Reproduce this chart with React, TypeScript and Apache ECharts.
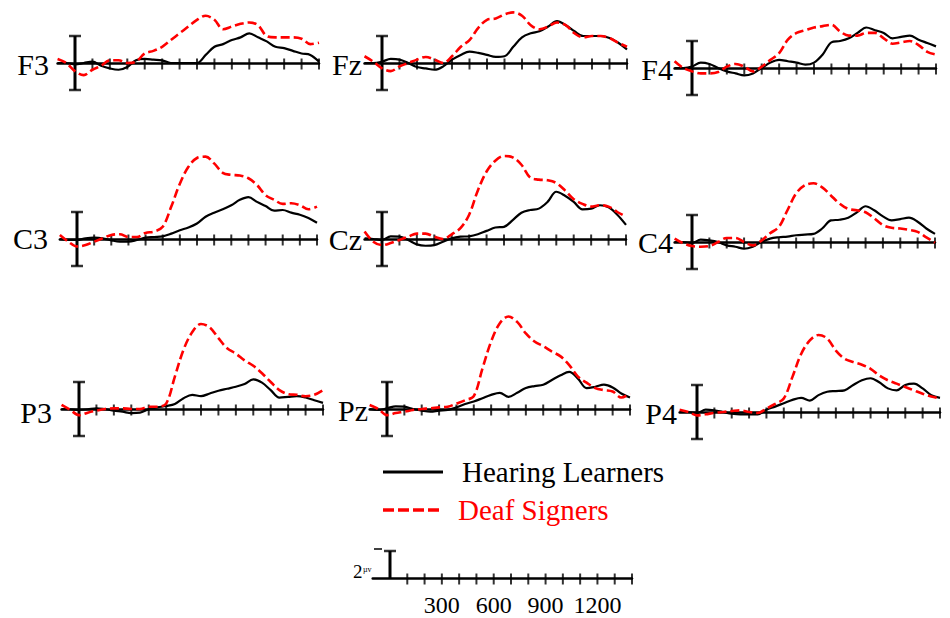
import { useEffect, useRef } from "react";
import * as echarts from "echarts";

// Time points (ms) and tick positions
const TIMES = [-100, -50, 0, 50, 100, 150, 200, 250, 300, 350, 400, 450, 500, 550, 600, 650, 700, 750, 800, 850, 900, 950, 1000, 1050, 1100, 1150, 1200, 1250, 1300, 1350, 1400];
const TICKS = [100, 200, 300, 400, 500, 600, 700, 800, 900, 1000, 1100, 1200, 1300, 1400];
const SCALE_LABELS = [300, 600, 900, 1200];

// Amplitudes (µV), Hearing Learners (solid) and Deaf Signers (dashed)
const F3_HEARING = [0, 0, -0.1, 0, 0.1, -0.2, -0.4, -0.5, -0.3, 0.2, 0.3, 0.25, 0.2, 0, 0, 0, 0, 0.6, 1.2, 1.4, 1.7, 1.9, 2.2, 1.9, 1.6, 1.2, 1.1, 0.9, 0.7, 0.6, 0.1];
const F3_DEAF = [0.3, 0, -0.6, -0.9, -0.5, -0.2, 0.2, 0.2, 0, 0.1, 0.7, 0.9, 1.2, 1.7, 2.2, 2.7, 3.2, 3.5, 3.2, 2.5, 2.7, 2.9, 3.0, 2.8, 2.0, 1.9, 1.9, 1.9, 1.8, 1.4, 1.5];
const FZ_HEARING = [0, 0, 0.1, 0.3, 0.25, 0, -0.3, -0.4, -0.5, -0.25, 0.25, 0.6, 0.85, 0.75, 0.6, 0.45, 0.5, 1.2, 1.9, 2.2, 2.35, 2.7, 3.1, 2.8, 2.35, 2.0, 2.0, 2.0, 1.85, 1.5, 1.0];
const FZ_DEAF = [0.5, 0.1, -0.4, -0.6, -0.25, 0, 0.25, 0.45, 0.25, 0, 0.5, 1.2, 1.7, 2.6, 3.2, 3.3, 3.6, 3.75, 3.5, 2.8, 2.5, 2.7, 3.0, 2.8, 2.2, 1.9, 2.0, 2.0, 1.85, 1.5, 1.2];
const F4_HEARING = [0, 0, 0.1, 0.4, 0.3, 0, -0.25, -0.4, -0.55, -0.4, 0, 0.4, 0.6, 0.5, 0.4, 0.25, 0.4, 1.0, 1.9, 2.0, 2.2, 2.6, 3.0, 2.8, 2.6, 2.2, 2.3, 2.4, 2.1, 1.85, 1.6];
const F4_DEAF = [0.5, 0, -0.25, -0.4, -0.4, -0.3, 0.1, 0.3, 0.1, -0.25, 0.1, 0.6, 1.1, 2.1, 2.6, 2.8, 3.0, 3.1, 3.2, 2.7, 2.4, 2.4, 2.6, 2.6, 2.2, 1.8, 1.9, 2.0, 1.7, 1.2, 1.0];
const C3_HEARING = [0, -0.07, -0.07, 0.05, 0.1, 0.05, -0.1, -0.2, -0.2, -0.07, 0.1, 0.15, 0.2, 0.4, 0.65, 0.85, 1.15, 1.65, 1.95, 2.2, 2.5, 2.9, 3.1, 2.75, 2.45, 2.1, 2.15, 1.95, 1.8, 1.55, 1.2];
const C3_DEAF = [0.3, -0.2, -0.55, -0.45, -0.2, 0.05, 0.3, 0.35, 0.15, 0.15, 0.45, 0.55, 0.9, 2.4, 4.1, 5.35, 6.0, 6.1, 5.6, 4.9, 4.75, 4.7, 4.5, 4.0, 3.25, 2.9, 2.6, 2.65, 2.5, 2.2, 2.4];
const CZ_HEARING = [0.05, 0, -0.07, 0.2, 0.17, -0.07, -0.4, -0.5, -0.45, -0.2, 0.05, 0.17, 0.2, 0.35, 0.6, 0.85, 0.9, 1.4, 1.95, 2.15, 2.25, 2.75, 3.5, 3.2, 2.75, 2.2, 2.25, 2.5, 2.35, 1.8, 1.05];
const CZ_DEAF = [0.55, -0.2, -0.45, -0.3, -0.07, 0.17, 0.4, 0.4, 0.17, 0, 0.35, 0.8, 1.8, 3.6, 5.0, 5.8, 6.15, 6.05, 5.5, 4.55, 4.4, 4.35, 4.15, 3.6, 2.95, 2.6, 2.4, 2.5, 2.4, 2.0, 1.65];
const C4_HEARING = [0, 0, -0.07, 0.17, 0.12, 0, -0.25, -0.35, -0.5, -0.35, 0, 0.25, 0.35, 0.4, 0.5, 0.55, 0.6, 1.0, 1.6, 1.65, 1.8, 2.2, 2.65, 2.35, 1.9, 1.6, 1.7, 1.8, 1.5, 1.0, 0.6];
const C4_DEAF = [0.25, -0.1, -0.3, -0.35, -0.3, 0, 0.3, 0.3, 0, -0.25, 0.1, 0.65, 1.1, 2.35, 3.6, 4.2, 4.35, 4.05, 3.45, 2.85, 2.45, 2.35, 2.2, 1.75, 1.25, 1.05, 1.0, 0.9, 0.75, 0.35, -0.05];
const P3_HEARING = [0, -0.02, -0.07, -0.02, 0.05, -0.02, -0.12, -0.2, -0.3, -0.27, -0.02, 0.12, 0.22, 0.37, 0.8, 1.05, 0.95, 1.15, 1.35, 1.5, 1.65, 1.85, 2.2, 1.95, 1.4, 0.85, 0.9, 0.95, 0.85, 0.65, 0.45];
const P3_DEAF = [0.3, -0.07, -0.45, -0.27, -0.12, 0, 0.05, 0.05, 0, 0, 0.17, 0.17, 0.4, 2.4, 4.4, 5.7, 6.3, 6.05, 5.25, 4.5, 4.1, 3.6, 3.2, 2.65, 2.0, 1.4, 1.1, 1.05, 0.95, 1.05, 1.4];
const PZ_HEARING = [0, -0.07, 0.05, 0.2, 0.17, 0, -0.12, -0.2, -0.12, -0.07, 0.12, 0.37, 0.55, 0.8, 1.05, 1.2, 0.9, 1.2, 1.55, 1.7, 1.8, 2.15, 2.5, 2.75, 2.25, 1.55, 1.65, 1.8, 1.6, 1.15, 0.85];
const PZ_DEAF = [0.3, 0, -0.45, -0.3, -0.2, -0.07, 0, 0.05, 0.12, 0.17, 0.4, 0.65, 0.95, 3.0, 5.0, 6.35, 6.85, 6.45, 5.6, 5.0, 4.65, 4.25, 3.9, 3.25, 2.4, 1.95, 1.55, 1.4, 1.3, 0.85, 1.15];
const P4_HEARING = [0, 0, -0.07, 0.17, 0.12, 0, -0.12, -0.17, -0.17, -0.17, 0.17, 0.4, 0.65, 0.9, 1.05, 0.85, 1.25, 1.5, 1.55, 1.6, 2.0, 2.35, 2.5, 2.2, 1.75, 1.6, 2.0, 2.1, 1.75, 1.25, 1.05];
const P4_DEAF = [0.17, 0, -0.25, -0.17, -0.07, 0, 0.07, 0.12, 0, -0.07, 0.25, 0.6, 1.0, 2.6, 4.3, 5.3, 5.7, 5.45, 4.55, 3.95, 3.7, 3.5, 3.2, 2.7, 2.35, 2.1, 1.85, 1.6, 1.35, 1.15, 1.0];

const ELECTRODES = ["F3", "Fz", "F4", "C3", "Cz", "C4", "P3", "Pz", "P4"];
const HEARING = [F3_HEARING, FZ_HEARING, F4_HEARING, C3_HEARING, CZ_HEARING, C4_HEARING, P3_HEARING, PZ_HEARING, P4_HEARING];
const DEAF = [F3_DEAF, FZ_DEAF, F4_DEAF, C3_DEAF, CZ_DEAF, C4_DEAF, P3_DEAF, PZ_DEAF, P4_DEAF];
const SERIES_NAMES = ["Hearing Learners", "Deaf Signers"];
const BAR_UV = 2;

// Layout (pixels)
const LAYOUT = [
  { zeroX: 75, axisY: 63, right: 319, labelRight: 49, labelY: 64, yMin: -2.5, yMax: 4.5 },
  { zeroX: 382, axisY: 63, right: 627, labelRight: 362, labelY: 64, yMin: -2.5, yMax: 4.5 },
  { zeroX: 692, axisY: 68, right: 936, labelRight: 673, labelY: 69, yMin: -2.5, yMax: 4.5 },
  { zeroX: 77, axisY: 239, right: 317, labelRight: 48, labelY: 238, yMin: -2.5, yMax: 7.5 },
  { zeroX: 382, axisY: 239, right: 626, labelRight: 362, labelY: 239, yMin: -2.5, yMax: 7.5 },
  { zeroX: 692, axisY: 242, right: 935, labelRight: 673, labelY: 242, yMin: -2.5, yMax: 7.5 },
  { zeroX: 79, axisY: 409, right: 323, labelRight: 52, labelY: 412, yMin: -2.5, yMax: 7.5 },
  { zeroX: 387, axisY: 409, right: 630, labelRight: 368, labelY: 410, yMin: -2.5, yMax: 7.5 },
  { zeroX: 697, axisY: 412, right: 940, labelRight: 677, labelY: 413, yMin: -2.5, yMax: 7.5 },
];
const SCALE_LAYOUT = { zeroX: 390, axisY: 578, right: 632, yMin: 0, yMax: 2.5 };
const PX_PER_UV = 13.5;
const SERIF = '"Liberation Serif", "Times New Roman", serif';
const RED = "#ff0000";

export default function App() {
  const ref = useRef<HTMLDivElement>(null);

  useEffect(() => {
    if (!ref.current) return;
    const chart = echarts.init(ref.current, undefined, { renderer: "svg" });

    const grids: any[] = [];
    const xAxes: any[] = [];
    const yAxes: any[] = [];
    const series: any[] = [];

    const addPanel = (lay: any, idx: number, withLabels: boolean) => {
      const pxPerMs = (lay.right - lay.zeroX) / 1400;
      grids.push({
        left: lay.zeroX - 100 * pxPerMs,
        width: 1500 * pxPerMs,
        top: lay.axisY - lay.yMax * PX_PER_UV,
        height: (lay.yMax - lay.yMin) * PX_PER_UV,
        containLabel: false,
        outerBoundsMode: "none",
      });
      xAxes.push({
        type: "value",
        gridIndex: idx,
        min: -100,
        max: 1400,
        interval: 100,
        axisLine: { show: true, onZero: true, lineStyle: { color: "#000", width: 2.5 } },
        axisTick: { show: false },
        splitLine: { show: false },
        axisLabel: withLabels
          ? {
              show: true,
              margin: 15,
              fontSize: 24,
              fontFamily: SERIF,
              color: "#000",
              formatter: (v: number) => (SCALE_LABELS.includes(v) ? String(v) : ""),
            }
          : { show: false },
      });
      yAxes.push({
        type: "value",
        gridIndex: idx,
        min: lay.yMin,
        max: lay.yMax,
        show: false,
      });
      // ticks
      series.push({
        type: "scatter",
        xAxisIndex: idx,
        yAxisIndex: idx,
        data: TICKS.map((t) => [t, 0]),
        symbol: "rect",
        symbolSize: [2, 11],
        symbolOffset: [0, 1],
        itemStyle: { color: "#000" },
        silent: true,
        clip: false,
        z: 1,
      });
      // calibration bar
      const barPts = withLabels ? [[0, 0], [0, BAR_UV]] : [[0, -BAR_UV], [0, BAR_UV]];
      series.push({
        type: "line",
        xAxisIndex: idx,
        yAxisIndex: idx,
        data: barPts,
        symbol: "none",
        lineStyle: { color: "#000", width: 3 },
        silent: true,
        z: 1,
      });
      series.push({
        type: "scatter",
        xAxisIndex: idx,
        yAxisIndex: idx,
        data: withLabels ? [[0, BAR_UV]] : [[0, -BAR_UV], [0, BAR_UV]],
        symbol: "rect",
        symbolSize: [12, 2.5],
        itemStyle: { color: "#000" },
        silent: true,
        z: 1,
      });
    };

    LAYOUT.forEach((lay, i) => {
      addPanel(lay, i, false);
      series.push({
        name: SERIES_NAMES[0],
        type: "line",
        xAxisIndex: i,
        yAxisIndex: i,
        data: TIMES.map((t, k) => [t, HEARING[i][k]]),
        symbol: "none",
        smooth: 0.35,
        lineStyle: { color: "#000", width: 2.2 },
        z: 3,
      });
      series.push({
        name: SERIES_NAMES[1],
        type: "line",
        xAxisIndex: i,
        yAxisIndex: i,
        data: TIMES.map((t, k) => [t, DEAF[i][k]]),
        symbol: "none",
        smooth: 0.35,
        lineStyle: { color: RED, width: 2.6, type: [9, 4] },
        z: 4,
      });
    });
    addPanel(SCALE_LAYOUT, LAYOUT.length, true);

    const graphic: any[] = [];
    LAYOUT.forEach((lay, i) => {
      graphic.push({
        type: "text",
        x: lay.labelRight,
        y: lay.labelY,
        style: {
          text: ELECTRODES[i],
          align: "right",
          verticalAlign: "middle",
          font: `30px ${SERIF}`,
          fill: "#000",
        },
      });
    });
    // legend
    graphic.push(
      { type: "line", shape: { x1: 383, y1: 472, x2: 443, y2: 472 }, style: { stroke: "#000", lineWidth: 3 } },
      { type: "line", shape: { x1: 383, y1: 510, x2: 440, y2: 510 }, style: { stroke: RED, lineWidth: 3.5, lineDash: [11, 4] } },
      {
        type: "text",
        x: 462,
        y: 472,
        style: { text: SERIES_NAMES[0], verticalAlign: "middle", font: `29px ${SERIF}`, fill: "#000" },
      },
      {
        type: "text",
        x: 458,
        y: 510,
        style: { text: SERIES_NAMES[1], verticalAlign: "middle", font: `29px ${SERIF}`, fill: RED },
      },
      // scale bar annotation
      {
        type: "text",
        x: 353,
        y: 571,
        style: { text: "2", verticalAlign: "middle", font: `19px ${SERIF}`, fill: "#000" },
      },
      {
        type: "text",
        x: 363,
        y: 569,
        style: { text: "µv", verticalAlign: "middle", font: `8px ${SERIF}`, fill: "#000" },
      },
      { type: "line", shape: { x1: 374, y1: 549, x2: 382, y2: 549 }, style: { stroke: "#000", lineWidth: 1.5 } }
    );

    chart.setOption({
      animation: false,
      backgroundColor: "#fff",
      grid: grids,
      xAxis: xAxes,
      yAxis: yAxes,
      series,
      graphic,
    });

    return () => chart.dispose();
  }, []);

  return (
    <div
      ref={ref}
      style={{ position: "fixed", left: 0, top: 0, width: 950, height: 618, background: "#fff" }}
    />
  );
}
